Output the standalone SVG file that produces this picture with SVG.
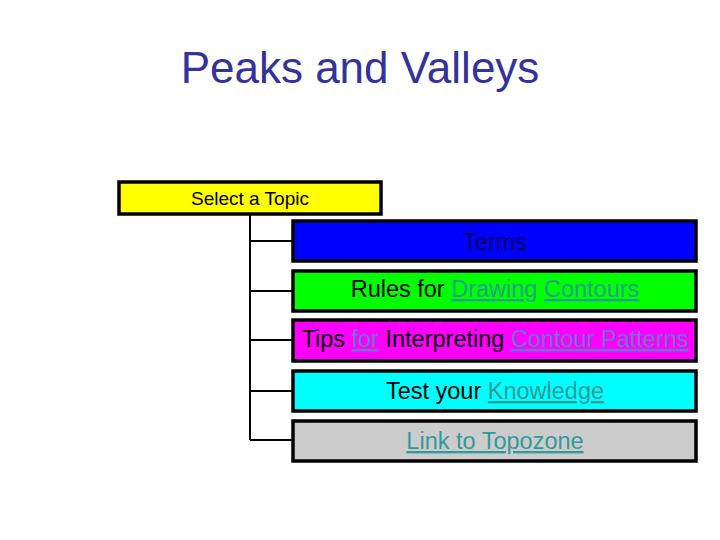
<svg xmlns="http://www.w3.org/2000/svg" width="720" height="540" viewBox="0 0 720 540">
<style>
text{font-family:"Liberation Sans",Arial,sans-serif;}
.t{font-size:23.5px;fill:#000;text-anchor:middle;}
.lk{fill:#339999;text-decoration:underline;}
.lk2{fill:#6677cc;text-decoration:underline;}
.box{stroke:#000;stroke-width:3.5;}
.con{stroke:#000;stroke-width:2;fill:none;}
</style>
<rect width="720" height="540" fill="#fff"/>
<text x="360" y="83" style="font-size:44px;fill:#333399;text-anchor:middle">Peaks and Valleys</text>
<g id="connectors">
<path class="con" d="M250 215V440M250 241H292M250 291H292M250 340H292M250 391H292M250 440H292"/>
</g>
<g id="select">
<rect class="box" x="119" y="182" width="262" height="32" fill="#ffff00" stroke-width="4"/>
<text x="250" y="205" style="font-size:19px;text-anchor:middle">Select a Topic</text>
</g>
<g id="terms">
<rect class="box" x="293" y="221" width="403" height="40" fill="#0000ff"/>
<text class="t" x="495" y="250" style="fill:#000066">Terms</text>
</g>
<g id="rules">
<rect class="box" x="293" y="271" width="403" height="40" fill="#00ff00"/>
<text class="t" x="495" y="297">Rules for <tspan class="lk" style="fill:#22a08a">Drawing</tspan> <tspan class="lk" style="fill:#22a08a">Contours</tspan></text>
</g>
<g id="tips">
<rect class="box" x="293" y="320" width="403" height="41" fill="#ff00ff"/>
<text class="t" x="495" y="347">Tips <tspan class="lk2">for</tspan> Interpreting <tspan class="lk2">Contour Patterns</tspan></text>
</g>
<g id="test">
<rect class="box" x="293" y="371" width="403" height="40" fill="#00ffff"/>
<text class="t" x="495" y="399">Test your <tspan class="lk">Knowledge</tspan></text>
</g>
<g id="link">
<rect class="box" x="293" y="421" width="403" height="40" fill="#cccccc"/>
<text class="t" x="495" y="449"><tspan class="lk">Link to Topozone</tspan></text>
</g>
</svg>
